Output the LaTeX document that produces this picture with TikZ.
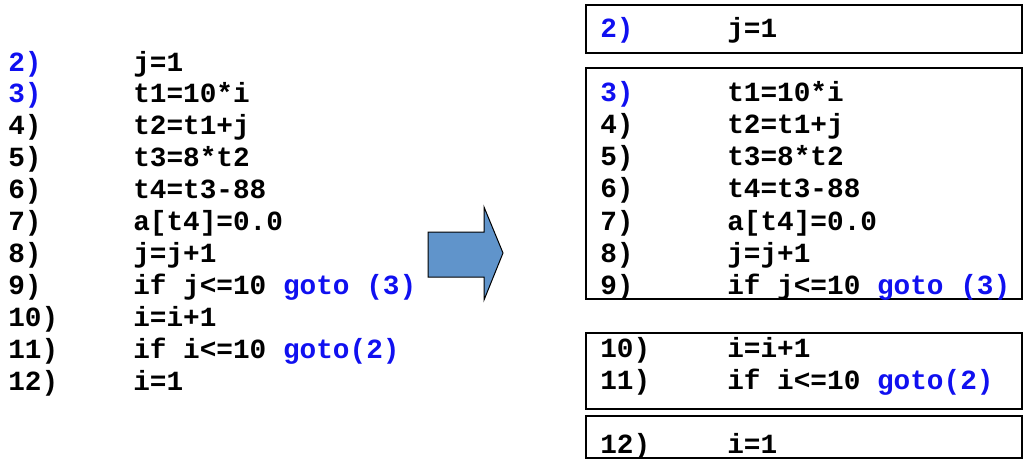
\documentclass[tikz,border=0pt]{standalone}
\usepackage{fontspec}
\setmonofont{Liberation Mono}
\usepackage{xcolor}
\usepackage{tikz}
\definecolor{cblue}{HTML}{1010F0}
\definecolor{carrow}{HTML}{6094CB}

\begin{document}
\begin{tikzpicture}[x=0.75pt, y=-0.75pt,
    code/.style={anchor=base west, inner sep=0pt,
        font=\ttfamily\bfseries\fontsize{20.8}{24}\selectfont},
    blk/.style={draw, line width=1.5pt}]
    \useasboundingbox (0,0) rectangle (1027,464);

    % original listing
    \foreach \n/\txt [count=\k from 0] in {
        {\color{cblue}2)}/{j=1},
        {\color{cblue}3)}/{t1=10*i},
        4)/{t2=t1+j},
        5)/{t3=8*t2},
        6)/{t4=t3-88},
        7)/{a[t4]=0.0},
        8)/{j=j+1},
        9)/{if j<=10 \color{cblue}goto (3)},
        10)/{i=i+1},
        11)/{if i<=10 \color{cblue}goto(2)},
        12)/{i=1}}
    {
        \node[code] (ln\k) at (8, 71+31.9*\k) {\n};
        \node[code] (lc\k) at (133, 71+31.9*\k) {\txt};
    }

    % arrow
    \draw[fill=carrow, line width=0.75pt] (428,232) -- (484,232) -- (484,207)
        -- (503,253) -- (484,300) -- (484,277) -- (428,277) -- cycle;

    % basic blocks
    \draw[blk] (586,5) rectangle (1022,53);
    \draw[blk] (586,68) rectangle (1022,299);
    \draw[blk] (586,333) rectangle (1022,409);
    \draw[blk] (586,416) rectangle (1022,458);

    \foreach \n/\txt/\y [count=\k] in {
        {\color{cblue}2)}/{j=1}/37,
        {\color{cblue}3)}/{t1=10*i}/101,
        4)/{t2=t1+j}/133.3,
        5)/{t3=8*t2}/165.6,
        6)/{t4=t3-88}/197.9,
        7)/{a[t4]=0.0}/230.2,
        8)/{j=j+1}/262.5,
        9)/{if j<=10 \color{cblue}goto (3)}/294.8,
        10)/{i=i+1}/357,
        11)/{if i<=10 \color{cblue}goto(2)}/389.5,
        12)/{i=1}/453}
    {
        \node[code] (rn\k) at (600, \y) {\n};
        \node[code] (rc\k) at (727, \y) {\txt};
    }
\end{tikzpicture}
\end{document}
